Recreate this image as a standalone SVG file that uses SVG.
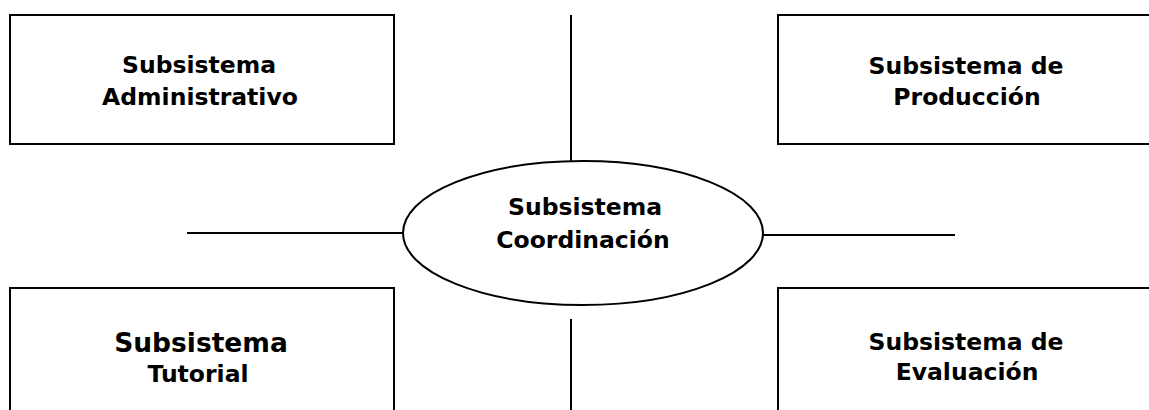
<svg xmlns="http://www.w3.org/2000/svg" width="1149" height="410" viewBox="0 0 1149 410">
<style>
.box{fill:#fff;stroke:#000;stroke-width:2}
.ln{stroke:#000;stroke-width:2;fill:none}
.t{font-family:"DejaVu Sans",Verdana,sans-serif;font-weight:bold;font-size:23.5px;text-anchor:middle;fill:#000}
</style>
<rect width="1149" height="410" fill="#fff"/>
<g id="connectors">
<line class="ln" x1="571" y1="15" x2="571" y2="161"/>
<line class="ln" x1="571" y1="319" x2="571" y2="410"/>
<line class="ln" x1="187" y1="233" x2="403" y2="233"/>
<line class="ln" x1="763" y1="235" x2="955" y2="235"/>
</g>
<g id="admin">
<rect class="box" x="10" y="15" width="384" height="129"/>
<text class="t" x="199" y="73">Subsistema</text>
<text class="t" x="200" y="105">Administrativo</text>
</g>
<g id="produccion">
<rect class="box" x="778" y="15" width="380" height="129"/>
<text class="t" x="966" y="74">Subsistema de</text>
<text class="t" x="967" y="105">Producción</text>
</g>
<g id="coordinacion">
<ellipse class="box" cx="583" cy="233" rx="180" ry="72"/>
<text class="t" x="585" y="215">Subsistema</text>
<text class="t" x="583" y="248">Coordinación</text>
</g>
<g id="tutorial">
<rect class="box" x="10" y="288" width="384" height="140"/>
<text class="t" x="201" y="352" style="font-size:26.5px">Subsistema</text>
<text class="t" x="198" y="382">Tutorial</text>
</g>
<g id="evaluacion">
<rect class="box" x="778" y="288" width="380" height="140"/>
<text class="t" x="966" y="350">Subsistema de</text>
<text class="t" x="967" y="380">Evaluación</text>
</g>
</svg>
